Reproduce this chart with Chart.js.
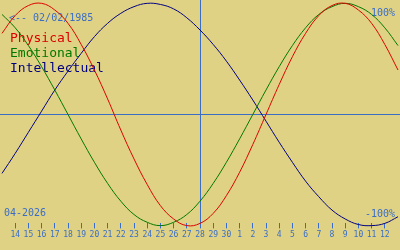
<!DOCTYPE html>
<html>
<head>
<meta charset="utf-8">
<script src="https://cdn.jsdelivr.net/npm/chart.js@4/dist/chart.umd.min.js"></script>
<style>
html, body { margin: 0; padding: 0; background: #e0d284; }
canvas { display: block; }
</style>
</head>
<body>
<canvas id="bioChart" width="400" height="250"></canvas>
<script>
// days shown: 13 Apr .. 13 May 2026 (edge days have no label)
const days = ['13', '14', '15', '16', '17', '18', '19', '20', '21', '22', '23', '24', '25', '26', '27',
    '28', '29', '30', '1', '2', '3', '4', '5', '6', '7', '8', '9', '10', '11', '12', '13'];
const physical = [73, 89, 98, 100, 94, 82, 63, 40, 14, -14, -40, -63, -82, -94, -100, -98,
    -89, -73, -52, -27, 0, 27, 52, 73, 89, 98, 100, 94, 82, 63, 40];
const emotional = [90, 78, 62, 43, 22, 0, -22, -43, -62, -78, -90, -97, -100, -97, -90, -78,
    -62, -43, -22, 0, 22, 43, 62, 78, 90, 97, 100, 97, 90, 78, 62];
const intellectual = [-53, -35, -16, 3, 22, 39, 55, 70, 82, 91, 97, 100, 99, 95, 87, 76,
    63, 48, 31, 13, -6, -25, -43, -60, -74, -86, -94, -99, -100, -98, -92];
const seriesNames = ['Physical', 'Emotional', 'Intellectual'];
const seriesColors = ['#dc0000', '#007800', '#000080'];
const birthLabel = '<-- 02/02/1985';
const monthLabel = '04-2026';
const todayIndex = 15;

const blue = '#3a6ec6';
const mono = '"DejaVu Sans Mono", monospace';

const overlay = {
    id: 'overlay',
    beforeDatasetsDraw(chart) {
        const ctx = chart.ctx;
        const area = chart.chartArea;
        const x = chart.scales.x;
        const y = chart.scales.y;
        ctx.save();
        ctx.strokeStyle = blue;
        ctx.lineWidth = 1;
        const y0 = Math.round(y.getPixelForValue(0)) + 0.5;
        ctx.beginPath();
        ctx.moveTo(0, y0);
        ctx.lineTo(chart.width, y0);
        const xt = Math.round(x.getPixelForValue(todayIndex)) + 0.5;
        ctx.moveTo(xt, 0);
        ctx.lineTo(xt, area.bottom);
        ctx.stroke();

        ctx.textBaseline = 'alphabetic';
        ctx.fillStyle = blue;
        ctx.font = '10px ' + mono;
        ctx.textAlign = 'left';
        ctx.fillText(birthLabel, 9, 21);
        ctx.fillText(monthLabel, 4, 216);
        ctx.textAlign = 'right';
        ctx.fillText('100%', 395, 16);
        ctx.fillText('-100%', 395, 217);

        ctx.textAlign = 'left';
        ctx.font = '13px ' + mono;
        seriesNames.forEach(function (name, i) {
            ctx.fillStyle = seriesColors[i];
            ctx.fillText(name, 10, 42 + i * 15);
        });
        ctx.restore();
    }
};

new Chart(document.getElementById('bioChart'), {
    type: 'line',
    data: {
        labels: days,
        datasets: [physical, emotional, intellectual].map(function (vals, i) {
            return {
                label: seriesNames[i],
                data: vals,
                borderColor: seriesColors[i],
                borderWidth: 1,
                pointRadius: 0,
                tension: 0.4,
                fill: false,
                clip: false
            };
        })
    },
    options: {
        responsive: false,
        animation: false,
        events: [],
        layout: { padding: { left: 0, right: 0, top: 0, bottom: 8 } },
        plugins: { legend: { display: false }, tooltip: { enabled: false } },
        scales: {
            x: {
                type: 'category',
                offset: false,
                border: { display: false },
                grid: {
                    drawOnChartArea: false,
                    drawTicks: true,
                    tickLength: 5,
                    tickColor: function (c) {
                        return (c.index === 0 || c.index === days.length - 1) ? 'rgba(0,0,0,0)' : blue;
                    }
                },
                ticks: {
                    autoSkip: false,
                    maxRotation: 0,
                    padding: 2,
                    color: blue,
                    font: { family: mono, size: 8 },
                    callback: function (v, i) {
                        return (i === 0 || i === days.length - 1) ? '' : days[i];
                    }
                }
            },
            y: { display: false, min: -98, max: 103 }
        }
    },
    plugins: [overlay]
});
</script>
</body>
</html>
